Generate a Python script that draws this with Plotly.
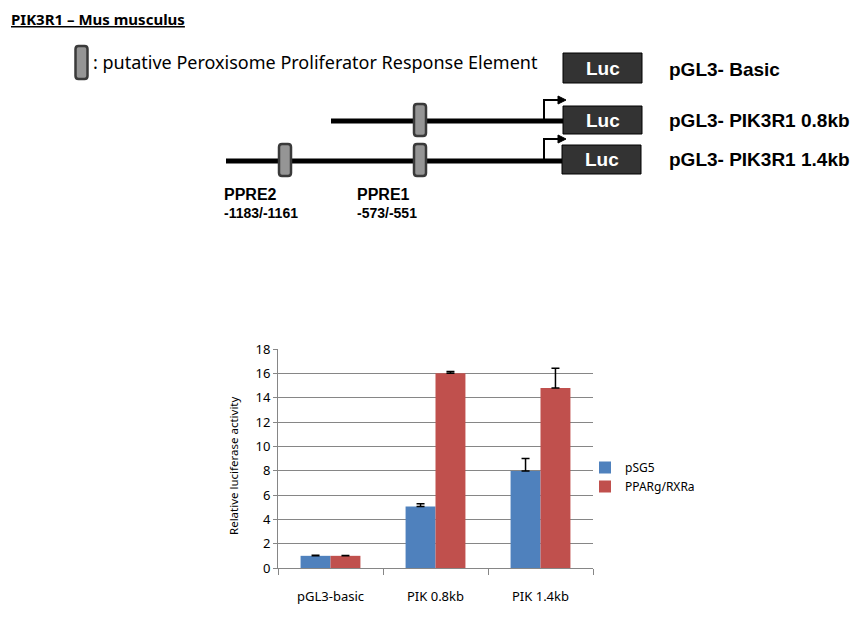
import plotly.graph_objects as go

# bar chart data
categories = ["pGL3-basic", "PIK 0.8kb", "PIK 1.4kb"]
psg5 = [1.0, 5.05, 7.97]
psg5_err = [0.05, 0.24, 1.03]
ppar = [1.0, 16.0, 14.8]
ppar_err = [0.02, 0.16, 1.61]
series_names = ["pSG5", "PPARg/RXRa"]

# schematic text
construct_names = ["pGL3- Basic", "pGL3- PIK3R1 0.8kb", "pGL3- PIK3R1 1.4kb"]
ppre_names = ["PPRE2", "PPRE1"]
ppre_ranges = ["-1183/-1161", "-573/-551"]

W, H = 860, 621
OFF = 8  # page margin around the plot div
BLUE = "#4F81BD"
RED = "#C0504D"
GRID = "#868686"


def px(x):
    return (x - OFF) / W


def py(y):
    return 1 - (y - OFF) / H


fig = go.Figure()

fig.add_trace(go.Bar(
    x=categories, y=psg5, name=series_names[0],
    marker=dict(color=BLUE, line=dict(width=0)),
    error_y=dict(type="data", symmetric=False, array=psg5_err,
                 arrayminus=[0, 0, 0], color="black", thickness=1.5, width=4),
))
fig.add_trace(go.Bar(
    x=categories, y=ppar, name=series_names[1],
    marker=dict(color=RED, line=dict(width=0)),
    error_y=dict(type="data", symmetric=False, array=ppar_err,
                 arrayminus=[0, 0, 0], color="black", thickness=1.5, width=4),
))
# invisible trace so the pixel-space overlay axes exist
fig.add_trace(go.Scatter(x=[430], y=[300], xaxis="x2", yaxis="y2",
                         mode="markers", marker=dict(opacity=0),
                         showlegend=False, hoverinfo="skip"))

shapes = []
annotations = []


def line(x0, y0, x1, y1, width=5, color="black"):
    shapes.append(dict(type="line", xref="x2", yref="y2", x0=x0, y0=y0,
                       x1=x1, y1=y1, line=dict(color=color, width=width)))


def ppre_box(cx, y0, y1, w=12, r=3):
    x0, x1 = cx - w / 2, cx + w / 2
    path = (f"M{x0+r},{y0} L{x1-r},{y0} Q{x1},{y0} {x1},{y0+r} "
            f"L{x1},{y1-r} Q{x1},{y1} {x1-r},{y1} L{x0+r},{y1} "
            f"Q{x0},{y1} {x0},{y1-r} L{x0},{y0+r} Q{x0},{y0} {x0+r},{y0} Z")
    shapes.append(dict(type="path", xref="x2", yref="y2", path=path,
                       fillcolor="#959595", line=dict(color="#3a3a3a", width=2.5)))


def luc_box(x0, y0, x1, y1):
    shapes.append(dict(type="rect", xref="x2", yref="y2", x0=x0, y0=y0,
                       x1=x1, y1=y1, fillcolor="#333333",
                       line=dict(color="black", width=1)))
    annotations.append(dict(xref="x2", yref="y2", x=(x0 + x1) / 2, y=(y0 + y1) / 2,
                            text="<b>Luc</b>", showarrow=False,
                            font=dict(family="Liberation Sans", size=19, color="white")))


def tss_arrow(x, ybase, ytop, xend):
    shapes.append(dict(type="path", xref="x2", yref="y2",
                       path=f"M{x},{ybase} L{x},{ytop} L{xend-6},{ytop}",
                       line=dict(color="black", width=2)))
    shapes.append(dict(type="path", xref="x2", yref="y2",
                       path=f"M{xend-8},{ytop-4} L{xend},{ytop} L{xend-8},{ytop+4} Z",
                       fillcolor="black", line=dict(color="black", width=1)))


# promoter lines
line(331, 121, 563, 121)
line(226, 161, 563, 161)
tss_arrow(544, 119, 100, 566)
tss_arrow(544, 159, 139, 566)
ppre_box(420, 104, 136)
ppre_box(420, 144, 176)
ppre_box(285, 144, 176)
ppre_box(81.5, 46, 79)

luc_box(563, 53, 642, 83)
luc_box(563, 106, 642, 134)
luc_box(562, 145, 641, 174)

for name, yc in zip(construct_names, [69, 120, 159]):
    annotations.append(dict(xref="x2", yref="y2", x=667, y=yc, xanchor="left",
                            text=f"<b>{name}</b>", showarrow=False,
                            font=dict(family="Liberation Sans", size=19, color="black")))

for name, rng, xl in zip(ppre_names, ppre_ranges, [222, 355]):
    annotations.append(dict(xref="x2", yref="y2", x=xl, y=194, xanchor="left",
                            text=f"<b>{name}</b>", showarrow=False,
                            font=dict(family="Liberation Sans", size=16, color="black")))
    annotations.append(dict(xref="x2", yref="y2", x=xl, y=213, xanchor="left",
                            text=f"<b>{rng}</b>", showarrow=False,
                            font=dict(family="Liberation Sans", size=14, color="black")))

annotations.append(dict(xref="x2", yref="y2", x=91, y=62, xanchor="left",
                        text=": putative Peroxisome Proliferator Response Element",
                        showarrow=False,
                        font=dict(family="Noto Sans", size=18, color="black")))
annotations.append(dict(xref="x2", yref="y2", x=10, y=19, xanchor="left",
                        borderpad=0,
                        text="<b><u>PIK3R1 – Mus musculus</u></b>", showarrow=False,
                        font=dict(family="Noto Sans", size=15, color="black")))
annotations.append(dict(xref="paper", yref="paper", x=px(234), y=py(466),
                        xanchor="center", yanchor="middle",
                        text="Relative luciferase activity", textangle=-90,
                        showarrow=False,
                        font=dict(family="Noto Sans", size=11.5, color="black")))

axis_off = dict(automargin=False)

fig.update_layout(
    template="none",
    width=W, height=H,
    margin=dict(l=0, r=0, t=0, b=0, pad=0, autoexpand=False),
    paper_bgcolor="white", plot_bgcolor="rgba(0,0,0,0)",
    barmode="group", bargap=0.43, bargroupgap=0,
    showlegend=True,
    legend=dict(x=px(585), y=py(453), xanchor="left", yanchor="top",
                font=dict(family="Noto Sans", size=12, color="black"),
                itemwidth=30, tracegroupgap=12, bgcolor="rgba(0,0,0,0)"),
    xaxis=dict(domain=[px(278), px(593)], type="category",
               showline=True, linecolor=GRID, linewidth=1,
               ticks="outside", tickson="boundaries", ticklen=6, tickcolor=GRID,
               ticklabelstandoff=16,
               tickfont=dict(family="Noto Sans", size=13, color="black"),
               showgrid=False, zeroline=False, anchor="y", **axis_off),
    yaxis=dict(domain=[py(568), py(349)], range=[0, 18], dtick=2,
               showline=True, linecolor=GRID, linewidth=1,
               ticks="outside", ticklen=4, tickcolor=GRID,
               showgrid=True, gridcolor=GRID, gridwidth=1, zeroline=False,
               tickfont=dict(family="Noto Sans", size=13, color="black"),
               anchor="x", **axis_off),
    xaxis2=dict(domain=[0, 1], range=[OFF, W + OFF], visible=False, anchor="y2",
                fixedrange=True, **axis_off),
    yaxis2=dict(domain=[0, 1], range=[H + OFF, OFF], visible=False, anchor="x2",
                fixedrange=True, **axis_off),
    shapes=shapes,
    annotations=annotations,
)

fig.write_html("out.html")
